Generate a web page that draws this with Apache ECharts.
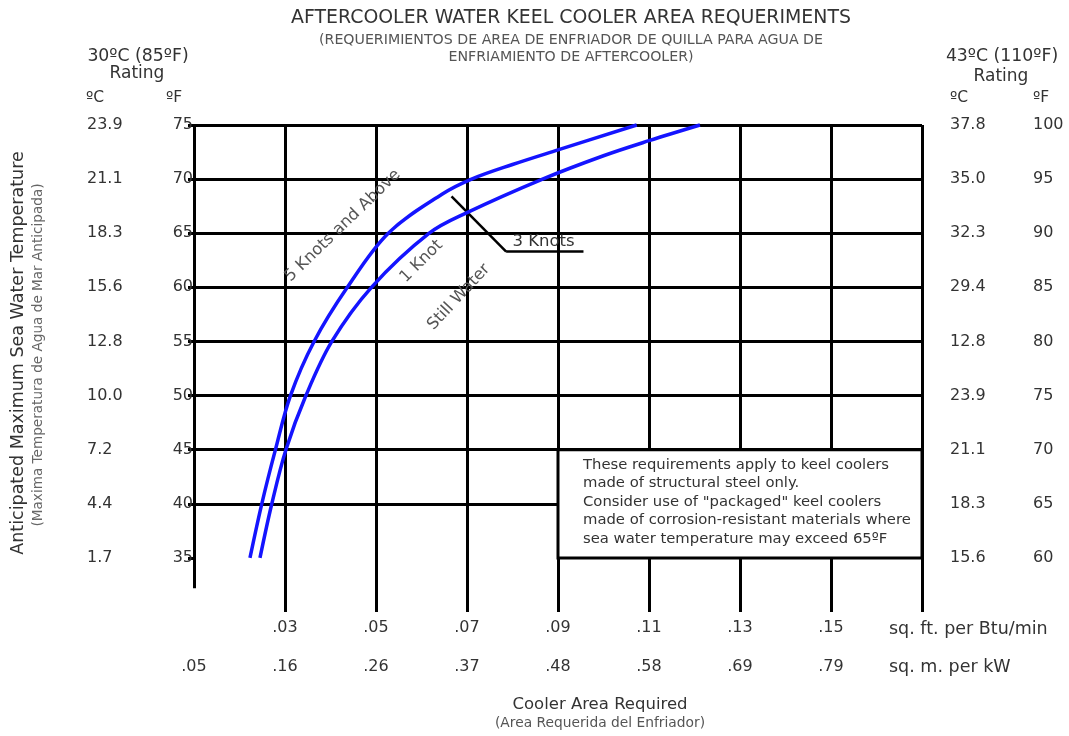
<!DOCTYPE html>
<html><head><meta charset="utf-8">
<script src="https://cdn.jsdelivr.net/npm/echarts@6/dist/echarts.min.js"></script>
<style>html,body{margin:0;padding:0;background:#fff}#c{width:1069px;height:736px}</style>
</head><body><div id="c"></div>
<script>
// ---- data ----
const sqFtLabels = ['', '.03', '.05', '.07', '.09', '.11', '.13', '.15', ''];
const sqMLabels  = ['.05', '.16', '.26', '.37', '.48', '.58', '.69', '.79', ''];
const leftF  = ['', '35', '40', '45', '50', '55', '60', '65', '70', '75'];
const leftC  = ['', '1.7', '4.4', '7.2', '10.0', '12.8', '15.6', '18.3', '21.1', '23.9'];
const rightC = ['', '15.6', '18.3', '21.1', '23.9', '12.8', '29.4', '32.3', '35.0', '37.8'];
const rightF = ['', '60', '65', '70', '75', '80', '85', '90', '95', '100'];
// [sq.ft per Btu/min, deg F]
const knots5 = [[0.0223,35],[0.0249,40],[0.0279,45],[0.0312,50],[0.0364,55],[0.0437,60],[0.0527,65],[0.0645,68.6],[0.0710,70],[0.0800,71.35],[0.0900,72.7],[0.1073,75]];
const knot1  = [[0.0245,35],[0.0271,40],[0.0302,45],[0.0346,50],[0.0403,55],[0.0490,60],[0.0617,65],[0.0700,66.9],[0.0866,70],[0.1000,72.16],[0.1100,73.55],[0.1212,75]];
const pointer3 = [[0.0666,68.4],[0.0786,63.3],[0.0956,63.3]];
const noteLines = [
  'These requirements apply to keel coolers',
  'made of structural steel only.',
  'Consider use of "packaged" keel coolers',
  'made of corrosion-resistant materials where',
  'sea water temperature may exceed 65ºF'
];

const FONT = '"DejaVu Sans", Verdana, sans-serif';
const X0 = 0.01, XSTEP = 0.02, XMAX = 0.17;
const Y0 = 30, YSTEP = 5, YMAX = 75;
const xi = v => Math.round((v - X0) / XSTEP);
const yi = v => Math.round((v - Y0) / YSTEP);
const lab = {color: '#333', fontFamily: FONT, fontSize: 16};

const chart = echarts.init(document.getElementById('c'), null, {renderer: 'canvas'});
const BLK = {color: '#000', width: 3, type: 'solid'};

function yAx(position, arr, margin, align) {
  return {
    type: 'value', position, min: Y0, max: YMAX, interval: YSTEP,
    axisLine: {show: false}, axisTick: {show: false}, splitLine: {show: false},
    axisLabel: Object.assign({margin, align, formatter: v => arr[yi(v)] || ''}, lab)
  };
}

const yAxes = [
  {
    type: 'value', position: 'left', min: Y0, max: YMAX, interval: YSTEP,
    axisLine: {show: false},
    axisTick: {show: true, length: 6, lineStyle: {color: '#000', width: 3}, customValues: [35,40,45,50,55,60,65,70,75]},
    splitLine: {show: true, showMinLine: false, lineStyle: BLK},
    axisLabel: Object.assign({margin: 1, formatter: v => leftF[yi(v)] || ''}, lab)
  },
  yAx('left', leftC, 107, 'left'),
  yAx('right', rightC, 28, 'left'),
  yAx('right', rightF, 111, 'left')
];

chart.setOption({
  animation: false,
  backgroundColor: '#fff',
  grid: {left: 194, right: 147, top: 125, bottom: 124, containLabel: false, outerBoundsMode: 'none'},
  xAxis: [
    {
      type: 'value', position: 'bottom', min: X0, max: XMAX, interval: XSTEP,
      axisLine: {show: false}, axisTick: {show: false},
      splitLine: {show: true, showMinLine: false, lineStyle: BLK},
      axisLabel: Object.assign({margin: 8, formatter: v => sqFtLabels[xi(v)] || ''}, lab)
    },
    {
      type: 'value', position: 'bottom', min: X0, max: XMAX, interval: XSTEP,
      axisLine: {show: false}, axisTick: {show: false}, splitLine: {show: false},
      axisLabel: Object.assign({margin: 47, formatter: v => sqMLabels[xi(v)] || ''}, lab)
    }
  ],
  yAxis: yAxes,
  series: [
    {
      name: '5 Knots and Above', type: 'line', data: knots5, smooth: 0.35, symbol: 'none', clip: false,
      lineStyle: {color: '#1414ff', width: 3.5}, z: 5,
      markLine: {
        silent: true, symbol: 'none', label: {show: false}, animation: false,
        lineStyle: BLK,
        data: [
          [{coord: [X0, 32.2]}, {coord: [X0, YMAX]}],
          [{coord: [0.0212, Y0]}, {coord: [0.1707, Y0]}],
          [{coord: [XMAX, Y0]}, {coord: [XMAX, YMAX]}],
          [{coord: pointer3[0], lineStyle: {width: 2.5}}, {coord: pointer3[1]}],
          [{coord: pointer3[1], lineStyle: {width: 2.5}}, {coord: pointer3[2]}]
        ]
      }
    },
    {
      name: '1 Knot', type: 'line', data: knot1, smooth: 0.35, symbol: 'none', clip: false,
      lineStyle: {color: '#1414ff', width: 3.5}, z: 5
    }
  ]
});

// ---- annotations (positions from data coordinates) ----
const px = (x, y) => chart.convertToPixel({xAxisIndex: 0, yAxisIndex: 0}, [x, y]);
const g = [];
const T = (text, x, y, size, color, align, extra) => g.push(Object.assign({
  type: 'text', x, y, z: 100,
  style: {text, fill: color || '#333', font: size + 'px ' + FONT, align: align || 'center', verticalAlign: 'middle'}
}, extra || {}));

// titles
T('AFTERCOOLER WATER KEEL COOLER AREA REQUERIMENTS', 571, 18, 18.9, '#333');
T('(REQUERIMIENTOS DE AREA DE ENFRIADOR DE QUILLA PARA AGUA DE', 571, 40, 14.2, '#555');
T('ENFRIAMIENTO DE AFTERCOOLER)', 571, 57, 14.2, '#555');
// headers
T('30ºC (85ºF)', 138, 57, 17.3, '#333');
T('Rating', 137, 74, 17, '#333');
T('ºC', 86, 98, 15.5, '#333', 'left');
T('ºF', 166, 98, 15.5, '#333', 'left');
T('43ºC (110ºF)', 1002, 57, 17.3, '#333');
T('Rating', 1001, 77, 17, '#333');
T('ºC', 950, 98, 15.5, '#333', 'left');
T('ºF', 1033, 98, 15.5, '#333', 'left');
// units
T('sq. ft. per Btu/min', 889, 629, 17.5, '#333', 'left');
T('sq. m. per kW', 889, 667, 17.5, '#333', 'left');
// axis titles
T('Cooler Area Required', 600, 705, 16.5, '#333');
T('(Area Requerida del Enfriador)', 600, 723, 13.8, '#555');
T('Anticipated Maximum Sea Water Temperature', 18, 353, 17.5, '#333', 'center', {rotation: Math.PI / 2});
T('(Maxima Temperatura de Agua de Mar Anticipada)', 38, 355, 13.6, '#666', 'center', {rotation: Math.PI / 2});

// note box
const b0 = px(0.09, 45), b1 = px(XMAX, 35);
g.push({type: 'rect', z: 90, shape: {x: b0[0], y: b0[1], width: b1[0] - b0[0], height: b1[1] - b0[1]}, style: {fill: '#fff', stroke: '#000', lineWidth: 3}});
noteLines.forEach((t, i) => T(t, b0[0] + 25, b0[1] + 15 + i * 18.5, 14.8, '#333', 'left'));

// curve labels
const c1 = px(0.0427, 65.7); T('5 Knots and Above', c1[0], c1[1], 16.3, '#555', 'center', {rotation: 44 * Math.PI / 180});
const c2 = px(0.0600, 62.4); T('1 Knot', c2[0], c2[1], 16.3, '#555', 'center', {rotation: 45 * Math.PI / 180});
const c3 = px(0.0682, 59.1); T('Still Water', c3[0], c3[1], 16.3, '#555', 'center', {rotation: 47 * Math.PI / 180});
const c4 = px(0.0800, 64.2); T('3 Knots', c4[0], c4[1], 16.5, '#333', 'left');

chart.setOption({graphic: g});
</script></body></html>
